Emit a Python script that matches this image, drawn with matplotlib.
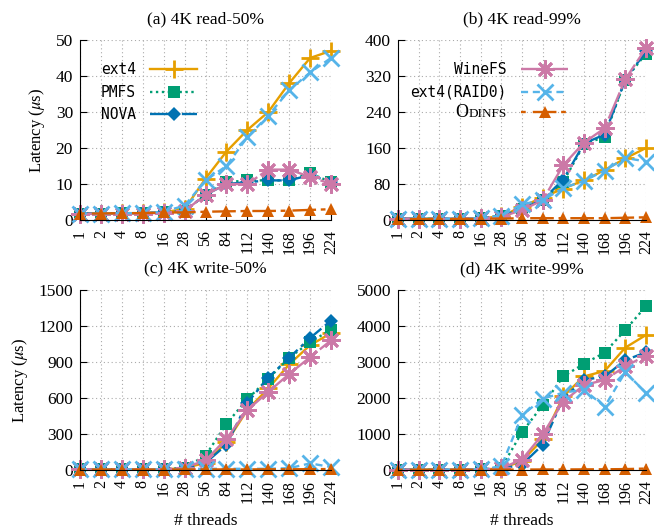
import matplotlib
matplotlib.use('Agg')
import matplotlib.pyplot as plt

plt.rcParams['font.family'] = ['Liberation Serif', 'DejaVu Serif']
plt.rcParams['mathtext.fontset'] = 'stix'

threads = ['1', '2', '4', '8', '16', '28', '56', '84', '112', '140', '168', '196', '224']

# (a) 4K read-50%  (us)
a_ext4 = [1.8, 1.8, 1.9, 1.9, 2.2, 3.0, 11.5, 19, 25, 30, 38, 45, 47]
a_pmfs = [1.8, 1.8, 1.9, 1.9, 2.1, 2.5, 7, 10.5, 11, 11, 11, 13, 10.5]
a_nova = [1.8, 1.8, 1.9, 1.9, 2.1, 2.5, 7, 10, 10.5, 11, 11, 12.5, 10.5]
a_winefs = [1.7, 1.7, 1.8, 1.8, 2.0, 2.5, 7, 10, 10, 14, 14, 12, 10]
a_raid0 = [1.8, 1.8, 1.9, 1.9, 2.3, 4.0, 11, 15, 23, 29, 36, 41, 45]
a_odinfs = [1.8, 1.8, 1.9, 1.9, 2.1, 2.1, 2.3, 2.4, 2.5, 2.5, 2.6, 2.8, 3.0]

# (b) 4K read-99%
b_ext4 = [3, 3, 3, 3, 4, 8, 30, 50, 70, 88, 111, 137, 160]
b_pmfs = [3, 3, 3, 3, 4, 8, 25, 45, 85, 168, 185, 312, 370]
b_nova = [3, 3, 3, 3, 4, 8, 25, 45, 90, 170, 190, 312, 375]
b_winefs = [3, 3, 3, 3, 4, 7, 22, 44, 122, 172, 204, 313, 382]
b_raid0 = [3, 3, 3, 3, 4, 10, 35, 44, 71, 87, 110, 138, 130]
b_odinfs = [2, 2, 2, 2, 3, 3, 4, 4, 4, 4, 4, 5, 6]

# (c) 4K write-50%
c_ext4 = [5, 5, 5, 5, 6, 15, 60, 230, 500, 680, 880, 1040, 1140]
c_pmfs = [5, 5, 5, 5, 6, 20, 120, 385, 590, 760, 935, 1065, 1170]
c_nova = [5, 5, 5, 5, 6, 15, 60, 210, 560, 770, 935, 1100, 1245]
c_winefs = [5, 5, 5, 5, 6, 20, 80, 260, 500, 650, 800, 940, 1080]
c_raid0 = [5, 5, 5, 5, 5, 8, 10, 10, 10, 10, 15, 55, 25]
c_odinfs = [4, 4, 4, 4, 4, 5, 5, 5, 5, 6, 6, 7, 8]

# (d) 4K write-99%
d_ext4 = [10, 10, 10, 10, 15, 40, 250, 850, 2050, 2600, 2750, 3400, 3750]
d_pmfs = [10, 10, 10, 10, 15, 60, 1050, 1800, 2600, 2950, 3260, 3890, 4550]
d_nova = [10, 10, 10, 10, 15, 40, 150, 700, 2000, 2500, 2600, 3050, 3270]
d_winefs = [10, 10, 10, 10, 15, 50, 290, 990, 1900, 2360, 2500, 2880, 3180]
d_raid0 = [10, 10, 10, 10, 20, 100, 1520, 1980, 2150, 2230, 1760, 2720, 2140]
d_odinfs = [8, 8, 8, 8, 8, 10, 12, 15, 15, 18, 20, 25, 40]

names = ['ext4', 'PMFS', 'NOVA', 'WineFS', 'ext4(RAID0)', 'Odinfs']
styles = {
    'ext4': dict(color='#E69F00', marker='+', ms=13, mew=2, ls='-'),
    'PMFS': dict(color='#009E73', marker='s', ms=9, mew=0, ls=(0, (1, 1.5))),
    'NOVA': dict(color='#0072B2', marker='D', ms=7.5, mew=0, ls=(0, (8, 2, 1.5, 2))),
    'WineFS': dict(color='#CC79A7', marker=(8, 2, 0), ms=13, mew=2, ls=(0, (12, 1.5))),
    'ext4(RAID0)': dict(color='#56B4E9', marker='x', ms=11, mew=2, ls=(0, (3, 2))),
    'Odinfs': dict(color='#D55E00', marker='^', ms=9, mew=0, ls=(0, (2, 3, 10, 2))),
}

panels = [
    ('(a) 4K read-50%', [a_ext4, a_pmfs, a_nova, a_winefs, a_raid0, a_odinfs], 50, 10),
    ('(b) 4K read-99%', [b_ext4, b_pmfs, b_nova, b_winefs, b_raid0, b_odinfs], 400, 80),
    ('(c) 4K write-50%', [c_ext4, c_pmfs, c_nova, c_winefs, c_raid0, c_odinfs], 1500, 300),
    ('(d) 4K write-99%', [d_ext4, d_pmfs, d_nova, d_winefs, d_raid0, d_odinfs], 5000, 1000),
]

W, H = 654, 531
boxes = [(80, 40, 331, 220), (398, 40, 646, 220), (80, 290, 331, 470), (398, 290, 646, 470)]

fig = plt.figure(figsize=(W / 100, H / 100), dpi=100)
axes = []
xs = list(range(len(threads)))
for k, (title, series, ymax, ystep) in enumerate(panels):
    x0, y0, x1, y1 = boxes[k]
    ax = fig.add_axes([x0 / W, 1 - y1 / H, (x1 - x0) / W, (y1 - y0) / H])
    axes.append(ax)
    for name, vals in zip(names, series):
        st = styles[name]
        ax.plot(xs, vals, color=st['color'], marker=st['marker'], ms=st['ms'],
                mew=st['mew'], ls=st['ls'], lw=1.7, clip_on=False, label=name)
    ax.set_xlim(0, 12)
    ax.set_ylim(0, ymax)
    ax.set_yticks(range(0, ymax + 1, ystep))
    ax.set_xticks(xs)
    ax.set_xticklabels(threads, rotation=90, fontsize=11.5)
    ax.tick_params(axis='y', labelsize=12.5, direction='in', length=5, pad=5)
    ax.tick_params(axis='x', direction='in', length=4, pad=7)
    ax.grid(True, color='#aaaaaa', ls=(0, (1, 2.5)), lw=0.8)
    ax.spines['top'].set_visible(False)
    ax.spines['right'].set_visible(False)
    ax.set_title(title, fontsize=12.5, pad=12)
    if k in (0, 2):
        ax.set_ylabel(r'Latency ($\mu$s)', fontsize=12, labelpad=6)
    if k in (2, 3):
        ax.set_xlabel('# threads', fontsize=12.5, labelpad=7)

mono = {'family': 'DejaVu Sans Mono', 'size': 10.5}
h, l = axes[0].get_legend_handles_labels()
leg_a = axes[0].legend(h[:3], l[:3], loc='upper right', bbox_to_anchor=((197 - 80) / 251, 0.875),
                       frameon=False, markerfirst=False, numpoints=1, prop=mono,
                       handlelength=3.2, handletextpad=1.0, labelspacing=0.5,
                       borderpad=0, borderaxespad=0)
h, l = axes[1].get_legend_handles_labels()
leg_b = axes[1].legend(h[3:], ['WineFS', 'ext4(RAID0)', 'DINFS'], loc='upper right',
                       bbox_to_anchor=((568 - 398) / 248, 0.875),
                       frameon=False, markerfirst=False, numpoints=1, prop=mono,
                       handlelength=3.2, handletextpad=1.0, labelspacing=0.5,
                       borderpad=0, borderaxespad=0)
t = leg_b.texts[2]
t.set_fontfamily('Liberation Serif')
t.set_fontsize(9.5)

# small caps: big "O" in front of "DINFS"
fig.canvas.draw()
px, py = t.get_transform().transform(t.get_position())
fx, fy = fig.transFigure.inverted().transform((px, py))
fig.text(fx, fy, 'O', ha='right', va='baseline', fontsize=13)

fig.savefig('out.png', dpi=100)
